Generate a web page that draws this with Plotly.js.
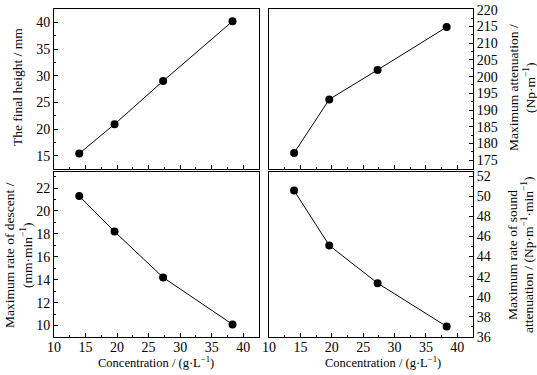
<!DOCTYPE html>
<html>
<head>
<meta charset="utf-8">
<script src="https://cdn.plot.ly/plotly-3.0.1.min.js"></script>
<style>html,body{margin:0;padding:0;background:#fff;}#chart{width:537px;height:375px;}</style>
</head>
<body>
<div id="chart"></div>
<script>
const concentration = [14.0, 19.6, 27.3, 38.3];
const finalHeight = [15.4, 20.9, 29.0, 40.2];
const maxAttenuation = [177.2, 193.2, 202.0, 214.8];
const maxDescentRate = [21.3, 18.2, 14.2, 10.1];
const maxSoundAttenRate = [50.55, 45.1, 41.35, 37.05];

const xTitle = 'Concentration / (g·L<sup>−1</sup>)';
const yTitleLines = [
  ['The final height / mm'],
  ['Maximum attenuation /', '(Np·m<sup>−1</sup>)'],
  ['Maximum rate of descent /', '(mm·min<sup>−1</sup>)'],
  ['Maximum rate of sound', 'attenuation / (Np·m<sup>−1</sup>·min<sup>−1</sup>)']
];

const FONT = 'Liberation Serif, Times New Roman, serif';
const W = 537, H = 375;
const xl = [54/W, 259/W], xr = [269/W, 473/W];
const yt = [(H-169)/H, (H-9)/H], yb = [(H-337)/H, (H-172)/H];

function trace(y, xa, ya) {
  return {x: concentration, y: y, xaxis: xa, yaxis: ya, type: 'scatter', mode: 'lines+markers',
    line: {color: '#000', width: 1}, marker: {color: '#000', size: 8}, showlegend: false, cliponaxis: false};
}

function xaxis(domain, anchor, showLabels) {
  return {domain: domain, anchor: anchor, range: [10, 42.5], dtick: 5, tick0: 10,
    showline: true, linecolor: '#000', linewidth: 1, mirror: true, ticks: 'inside', ticklen: 4,
    tickcolor: '#000', showgrid: false, zeroline: false, showticklabels: showLabels,
    ticklabelstandoff: -3,
    minor: {dtick: 2.5, ticks: 'inside', ticklen: 2, tickcolor: '#000'},
    tickfont: {family: FONT, size: 14, color: '#000'}};
}
function yaxis(domain, anchor, range, dtick, minorDtick, side) {
  return {domain: domain, anchor: anchor, range: range, dtick: dtick, side: side,
    showline: true, linecolor: '#000', linewidth: 1, mirror: true, ticks: 'inside', ticklen: 4,
    tickcolor: '#000', showgrid: false, zeroline: false,
    minor: {dtick: minorDtick, ticks: 'inside', ticklen: 2, tickcolor: '#000'},
    tickfont: {family: FONT, size: 14, color: '#000'}};
}

const data = [
  trace(finalHeight, 'x', 'y'),
  trace(maxAttenuation, 'x2', 'y2'),
  trace(maxDescentRate, 'x3', 'y3'),
  trace(maxSoundAttenRate, 'x4', 'y4')
];

function ann(text, px, py, angle) {
  return {text: text, xref: 'paper', yref: 'paper', x: px / W, y: 1 - py / H,
    xanchor: 'center', yanchor: 'middle', showarrow: false, textangle: angle,
    font: {family: FONT, size: 13.5, color: '#000'}};
}

const annotations = [
  ann(yTitleLines[0][0], 17, 87, -90),
  ann(yTitleLines[1][0], 513, 88, -90),
  ann(yTitleLines[1][1], 529, 88, -90),
  ann(yTitleLines[2][0], 9, 255, -90),
  ann(yTitleLines[2][1], 26, 255, -90),
  ann(yTitleLines[3][0], 512, 255, -90),
  ann(yTitleLines[3][1], 527, 255, -90),
  ann(xTitle, 156, 362, 0),
  ann(xTitle, 383, 362, 0)
];
annotations[7].font.size = 12.5;
annotations[8].font.size = 12.5;

const layout = {
  width: W, height: H, margin: {l: 0, r: 0, t: 0, b: 0},
  paper_bgcolor: '#fff', plot_bgcolor: '#fff',
  font: {family: FONT, color: '#000'},
  xaxis: xaxis(xl, 'y', false),
  yaxis: yaxis(yt, 'x', [12.5, 42.5], 5, 2.5, 'left'),
  xaxis2: xaxis(xr, 'y2', false),
  yaxis2: yaxis(yt, 'x2', [172.4, 220.2], 5, 2.5, 'right'),
  xaxis3: xaxis(xl, 'y3', true),
  yaxis3: yaxis(yb, 'x3', [9, 23.4], 2, 1, 'left'),
  xaxis4: xaxis(xr, 'y4', true),
  yaxis4: yaxis(yb, 'x4', [36, 52.4], 2, 1, 'right'),
  annotations: annotations
};

Plotly.newPlot('chart', data, layout, {displayModeBar: false, staticPlot: true});
</script>
</body>
</html>
